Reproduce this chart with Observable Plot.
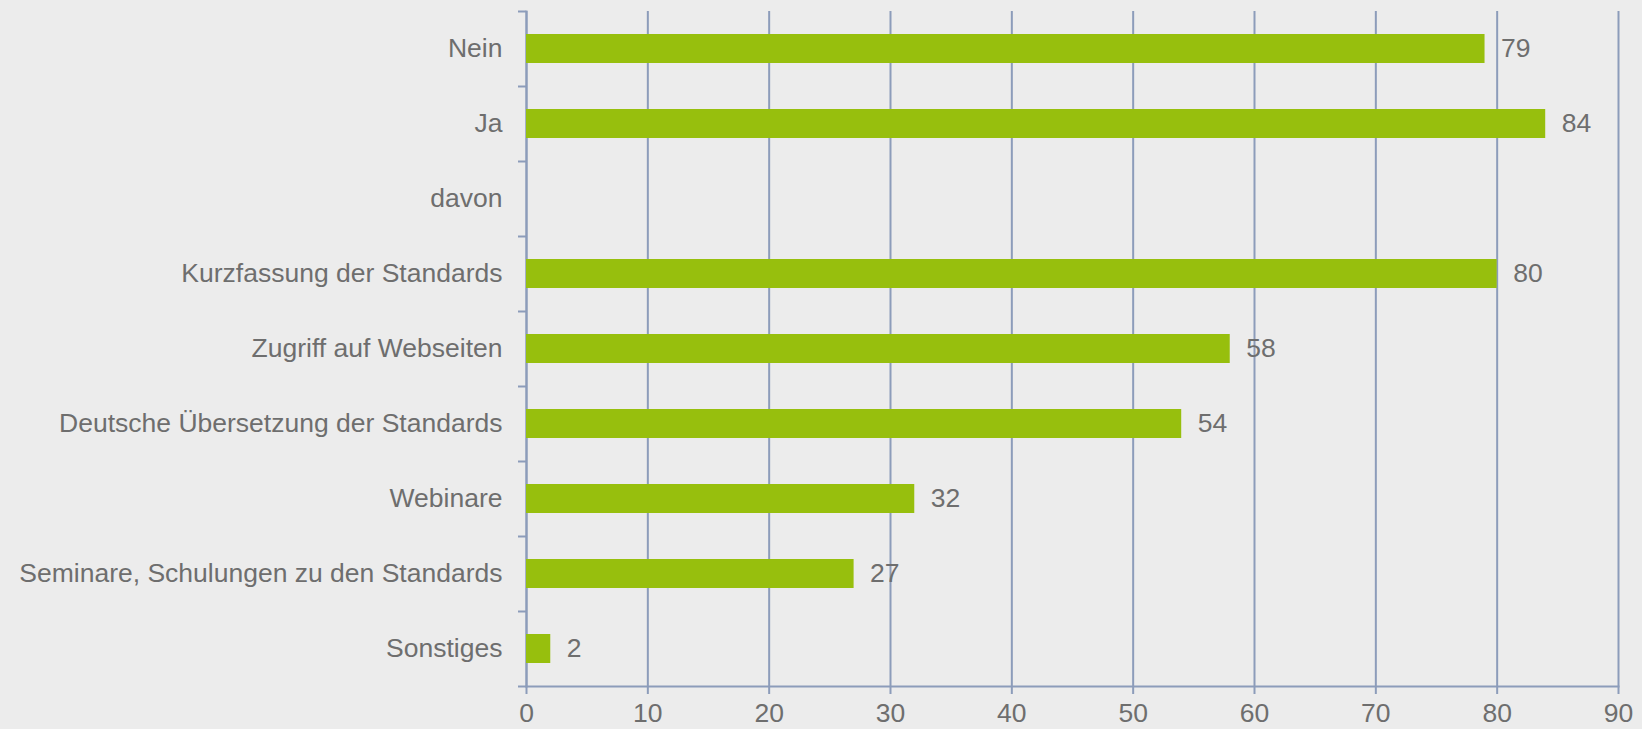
<!DOCTYPE html>
<html>
<head>
<meta charset="utf-8">
<script src="https://cdn.jsdelivr.net/npm/d3@7"></script>
<script src="https://cdn.jsdelivr.net/npm/@observablehq/plot@0.6"></script>
<style>
  html, body { margin: 0; padding: 0; background: #ececec; }
  #chart svg { display: block; }
</style>
</head>
<body>
<div id="chart"></div>
<script>
const categories = [
  "Nein",
  "Ja",
  "davon",
  "Kurzfassung der Standards",
  "Zugriff auf Webseiten",
  "Deutsche Übersetzung der Standards",
  "Webinare",
  "Seminare, Schulungen zu den Standards",
  "Sonstiges"
];
const values = [79, 84, null, 80, 58, 54, 32, 27, 2];
const xTicks = [0, 10, 20, 30, 40, 50, 60, 70, 80, 90];

const data = categories.map((c, i) => ({category: c, value: values[i]}));
const bars = data.filter(d => d.value != null);

const W = 1642, H = 729;
const mL = 526, mR = 24, mT = 11, mB = 43;
const step = (H - mT - mB) / categories.length;

const gridColor = "#8c9cba";
const textColor = "#6e6e6e";
const barColor = "#97bf0d";
const fs = 26.5;

const chart = Plot.plot({
  width: W,
  height: H,
  marginLeft: mL,
  marginRight: mR,
  marginTop: mT,
  marginBottom: mB,
  style: {background: "#ececec", fontFamily: "'Liberation Sans', Arial, sans-serif", fontSize: fs + "px", color: textColor},
  x: {domain: [0, 90], ticks: xTicks, label: null},
  y: {domain: categories, paddingInner: 0.61, paddingOuter: 0.305, label: null},
  marks: [
    Plot.gridX(xTicks, {stroke: gridColor, strokeOpacity: 1, strokeWidth: 2}),
    Plot.frame({anchor: "bottom", stroke: gridColor, strokeWidth: 2}),
    Plot.frame({anchor: "left", stroke: gridColor, strokeWidth: 2}),
    Plot.axisX(xTicks, {stroke: gridColor, strokeWidth: 2, tickSize: 8, tickPadding: 9, fill: textColor, fontSize: fs, tickFormat: d => String(d), label: null}),
    Plot.ruleY(categories, {y: d => d, x1: -8 / 12.137, x2: 0, dy: -step / 2, stroke: gridColor, strokeWidth: 2}),
    Plot.ruleY([categories[categories.length - 1]], {y: d => d, x1: -8 / 12.137, x2: 0, dy: step / 2, stroke: gridColor, strokeWidth: 2}),
    Plot.barX(bars, {y: "category", x: "value", fill: barColor}),
    Plot.text(bars, {y: "category", x: "value", text: d => String(d.value), textAnchor: "start", dx: 16, fill: textColor, fontSize: fs}),
    Plot.axisY({tickSize: 0, tickPadding: 24, fill: textColor, fontSize: fs, label: null})
  ]
});
document.getElementById("chart").appendChild(chart);
</script>
</body>
</html>
